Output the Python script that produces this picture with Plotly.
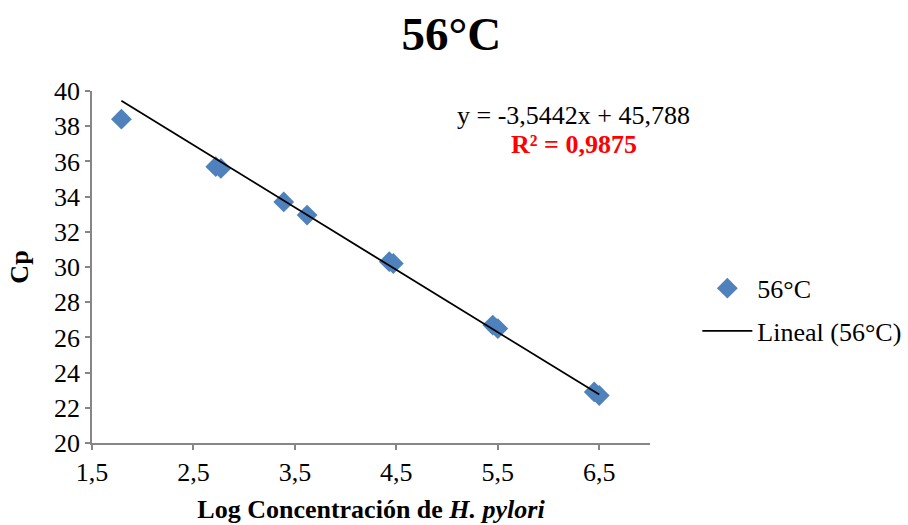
import plotly.graph_objects as go

# Log concentration of H. pylori vs. Cp at 56 °C
log_conc = [1.79, 2.72, 2.77, 3.39, 3.62, 4.43, 4.47, 5.45, 5.50, 6.45, 6.50]
cp_values = [38.4, 35.7, 35.6, 33.7, 32.95, 30.3, 30.2, 26.7, 26.5, 22.9, 22.7]

# Linear trendline coefficients and fit quality
slope = -3.5442
intercept = 45.788
r_squared = 0.9875

x_ticks = [1.5, 2.5, 3.5, 4.5, 5.5, 6.5]
y_ticks = [20, 22, 24, 26, 28, 30, 32, 34, 36, 38, 40]

serif = "Liberation Serif"
axis_grey = "#868686"
marker_blue = "#4F81BD"
fs = 26

x_line = [min(log_conc), max(log_conc)]
y_line = [slope * v + intercept for v in x_line]

fig = go.Figure()
fig.add_trace(go.Scatter(
    x=log_conc, y=cp_values, mode="markers", name="56°C",
    legendgroup="a",
    marker=dict(symbol="diamond", size=16, color=marker_blue),
))
fig.add_trace(go.Scatter(
    x=x_line, y=y_line, mode="lines", name="Lineal (56°C)",
    legendgroup="b",
    line=dict(color="black", width=1.8),
))

eq_text = f"y = {slope:.4f}x + {intercept:.3f}".replace(".", ",")
r2_text = f"R² = {r_squared:.4f}".replace(".", ",")

fig.add_annotation(x=6.25, y=38.59, xref="x", yref="y", text=eq_text,
                   showarrow=False, font=dict(family=serif, size=fs, color="black"))
fig.add_annotation(x=6.25, y=36.95, xref="x", yref="y", text=f"<b>{r2_text}</b>",
                   showarrow=False, font=dict(family=serif, size=fs, color="#FF0000"))

fig.update_layout(
    width=908, height=525,
    paper_bgcolor="white", plot_bgcolor="white",
    separators=",.",
    margin=dict(l=92, r=258, t=91, b=82, autoexpand=False),
    title=dict(text="<b>56°C</b>", x=0.497, xanchor="center", y=0.937, yanchor="middle",
               font=dict(family=serif, size=47, color="black")),
    font=dict(family=serif, size=fs, color="black"),
    showlegend=True,
    legend=dict(xref="container", yref="container", x=0.768, y=0.41,
                xanchor="left", yanchor="middle",
                font=dict(family=serif, size=fs, color="black"),
                itemwidth=50, tracegroupgap=6, traceorder="grouped",
                bgcolor="rgba(0,0,0,0)"),
    xaxis=dict(
        range=[1.5, 7.0], tickvals=x_ticks, tickformat=".1f",
        showgrid=False, zeroline=False, automargin=False,
        showline=True, linecolor=axis_grey, linewidth=1.5,
        ticks="outside", ticklen=5, tickcolor=axis_grey, tickwidth=1.5,
        tickfont=dict(family=serif, size=fs, color="black"),
        title=dict(text="<b>Log Concentración de <i>H. pylori</i></b>",
                   font=dict(family=serif, size=fs, color="black"), standoff=14),
    ),
    yaxis=dict(
        range=[20, 40], tickvals=y_ticks,
        showgrid=False, zeroline=False, automargin=False,
        showline=True, linecolor=axis_grey, linewidth=1.5,
        ticks="outside", ticklen=5, tickcolor=axis_grey, tickwidth=1.5,
        tickfont=dict(family=serif, size=fs, color="black"),
        title=dict(text="<b>Cp</b>", font=dict(family=serif, size=fs, color="black"),
                   standoff=18),
    ),
)

fig.write_html("out.html")
